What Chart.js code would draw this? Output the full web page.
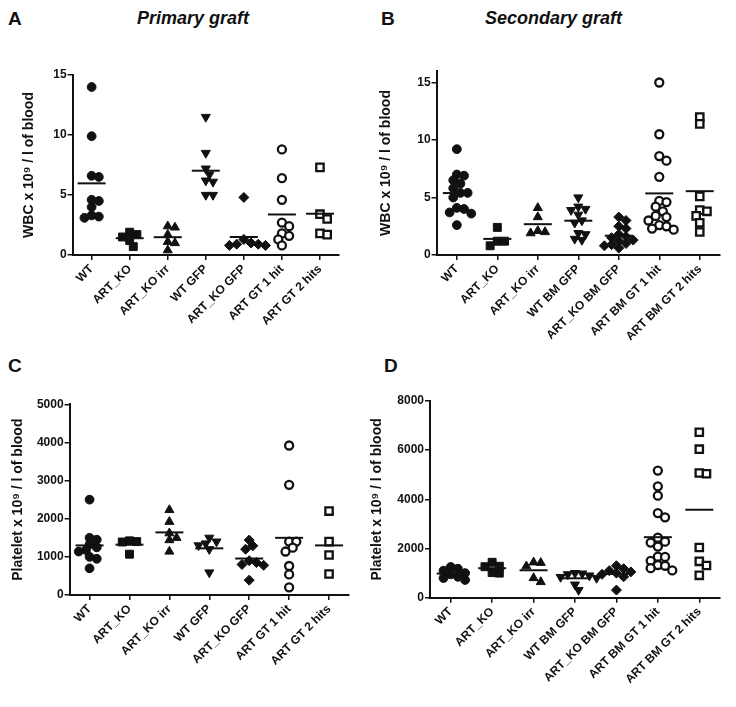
<!DOCTYPE html>
<html>
<head>
<meta charset="utf-8">
<script src="https://cdn.jsdelivr.net/npm/chart.js@4.4.1/dist/chart.umd.min.js"></script>
<style>
body { margin: 0; background: #fff; }
#wrap { position: relative; width: 736px; height: 707px; font-family: 'Liberation Sans', Arial, sans-serif; color: #111; }
canvas { position: absolute; }
.lbl { position: absolute; font-weight: bold; font-size: 19px; line-height: 22px; }
.ttl { position: absolute; font-weight: bold; font-style: italic; font-size: 18px; line-height: 22px; }
</style>
</head>
<body>
<div id="wrap">
  <div class="lbl" style="left:8px;top:8px">A</div>
  <div class="ttl" style="left:137px;top:7px">Primary graft</div>
  <div class="lbl" style="left:381px;top:8px">B</div>
  <div class="ttl" style="left:485px;top:7px">Secondary graft</div>
  <div class="lbl" style="left:8px;top:355px">C</div>
  <div class="lbl" style="left:384px;top:355px">D</div>
  <canvas id="chartA" width="355" height="310" style="left:0px;top:55px"></canvas>
  <canvas id="chartB" width="376" height="310" style="left:360px;top:55px"></canvas>
  <canvas id="chartC" width="365" height="322" style="left:0px;top:385px"></canvas>
  <canvas id="chartD" width="376" height="322" style="left:360px;top:385px"></canvas>
</div>
<script>
// group names
const primCats = ['WT', 'ART_KO', 'ART_KO irr', 'WT GFP', 'ART_KO GFP', 'ART GT 1 hit', 'ART GT 2 hits'];
const secCats = ['WT', 'ART_KO', 'ART_KO irr', 'WT BM GFP', 'ART_KO BM GFP', 'ART BM GT 1 hit', 'ART BM GT 2 hits'];

// A - WBC, primary graft (x10^9/l)
const wbcPrimWT = [14.0, 9.9, 6.6, 6.5, 4.6, 4.5, 4.0, 3.3, 3.2, 3.1];
const wbcPrimKO = [1.9, 1.7, 1.5, 1.2, 0.7];
const wbcPrimKOirr = [2.4, 2.3, 1.7, 1.1, 1.0, 0.4];
const wbcPrimWTGFP = [11.5, 8.5, 7.2, 6.7, 6.2, 6.1, 5.0, 5.0];
const wbcPrimKOGFP = [4.8, 1.3, 1.0, 0.9, 0.9, 0.8, 0.8];
const wbcPrimGT1 = [8.8, 6.4, 4.6, 2.7, 2.4, 1.8, 1.6, 1.3, 0.8];
const wbcPrimGT2 = [7.3, 3.4, 3.0, 1.8, 1.7];

// B - WBC, secondary graft
const wbcSecWT = [9.2, 7.0, 6.9, 6.5, 6.2, 5.8, 5.4, 5.4, 5.0, 4.1, 4.0, 3.7, 3.6, 2.6];
const wbcSecKO = [2.4, 1.2, 1.2, 0.8];
const wbcSecKOirr = [4.1, 3.3, 2.1, 2.0, 1.9];
const wbcSecWTGFP = [5.0, 4.2, 4.0, 3.9, 3.5, 3.0, 2.8, 1.9, 1.8, 1.4, 1.3];
const wbcSecKOGFP = [3.3, 3.0, 2.5, 2.3, 1.8, 1.6, 1.5, 1.3, 1.2, 1.0, 0.9, 0.8, 0.6];
const wbcSecGT1 = [15.0, 10.5, 8.6, 8.2, 6.8, 4.7, 4.6, 4.2, 3.8, 3.4, 3.3, 3.0, 2.6, 2.5, 2.3, 2.2];
const wbcSecGT2 = [12.0, 11.4, 5.1, 3.9, 3.8, 3.4, 2.8, 2.0];

// C - platelets, primary graft
const pltPrimWT = [2500, 1500, 1450, 1330, 1250, 1180, 1140, 1000, 950, 700];
const pltPrimKO = [1420, 1400, 1390, 1070];
const pltPrimKOirr = [2230, 1920, 1620, 1500, 1440, 1140];
const pltPrimWTGFP = [1500, 1400, 1350, 1300, 1200, 590];
const pltPrimKOGFP = [1440, 1290, 1200, 900, 850, 800, 780, 390];
const pltPrimGT1 = [3920, 2890, 1400, 1400, 1240, 1140, 760, 540, 200];
const pltPrimGT2 = [2200, 1400, 1050, 550];

// D - platelets, secondary graft
const pltSecWT = [1250, 1180, 1100, 1000, 950, 850, 800, 720];
const pltSecKO = [1440, 1280, 1260, 1020, 1000];
const pltSecKOirr = [1440, 1420, 1280, 800, 640];
const pltSecWTGFP = [1000, 980, 950, 900, 840, 800, 530, 310];
const pltSecKOGFP = [1300, 1180, 1100, 1050, 1000, 950, 850, 310];
const pltSecGT1 = [5170, 4530, 4150, 3440, 3270, 2440, 2280, 2240, 2080, 1670, 1660, 1500, 1330, 1300, 1200, 1110];
const pltSecGT2 = [6730, 6040, 5070, 5040, 2040, 1480, 1310, 910];

const wbcTicks = [0, 5, 10, 15];
const pltPrimTicks = [0, 1000, 2000, 3000, 4000, 5000];
const pltSecTicks = [0, 2000, 4000, 6000, 8000];

const ink = '#111';
const fontFam = "'Liberation Sans', Arial, sans-serif";

// one marker per group, same order in every panel
const markers = [
  {style: 'circle', r: 4.4},
  {style: 'rect', r: 5.6},
  {style: 'triangle', r: 5.2},
  {style: 'triangle', r: 5.2, rot: 180},
  {style: 'rectRot', r: 5},
  {style: 'circle', r: 4, open: true},
  {style: 'rect', r: 5.2, open: true}
];

// spread points sideways a little, close values side by side
function swarm(chart) {
  const xs = chart.scales.x, ys = chart.scales.y;
  const unit = xs.getPixelForValue(1) - xs.getPixelForValue(0);
  const d = 9;
  chart.data.datasets.forEach(ds => {
    if (ds.vals === undefined) return;
    const placed = [];
    const pts = [];
    const order = ds.vals.map((v, k) => k).sort((a, b) => ds.vals[b] - ds.vals[a]);
    order.forEach(k => {
      const py = ys.getPixelForValue(ds.vals[k]);
      let off = 0;
      for (let n = 0; n < 40; n++) {
        const c = n === 0 ? 0 : Math.ceil(n / 2) * (n % 2 ? 1 : -1) * d * 0.4;
        if (placed.every(p => Math.hypot(p.x - c, p.y - py) >= d * 0.72)) { off = c; break; }
      }
      placed.push({x: off, y: py});
      pts[k] = {x: ds.group + off / unit, y: ds.vals[k]};
    });
    ds.data = pts;
  });
  chart.update('none');
}

function drawPanel(id, cats, groups, yMax, yTicks, yTitle, box) {
  const datasets = [];
  const means = groups.map((g, i) => ({x: i, y: g.reduce((a, b) => a + b, 0) / g.length}));
  datasets.push({
    data: means, pointStyle: 'line', pointRadius: 14, pointHoverRadius: 14,
    pointBorderColor: ink, pointBorderWidth: 2, clip: false
  });
  groups.forEach((g, i) => {
    const m = markers[i];
    datasets.push({
      group: i, vals: g,
      data: g.map(v => ({x: i, y: v})),
      pointStyle: m.style, pointRotation: m.rot || 0,
      pointRadius: m.r, pointHoverRadius: m.r,
      pointBackgroundColor: m.open ? '#fff' : ink,
      pointBorderColor: ink, pointBorderWidth: m.open ? 2.3 : 1,
      clip: false
    });
  });

  const grid = {drawOnChartArea: false, drawTicks: true, tickLength: 5, color: ink, lineWidth: 1.5};
  const border = {color: ink, width: 2};
  const tickFont = {family: fontFam, size: 12, weight: 'bold'};

  const chart = new Chart(document.getElementById(id), {
    type: 'scatter',
    data: {datasets: datasets},
    options: {
      responsive: false,
      animation: false,
      events: [],
      plugins: {legend: {display: false}, tooltip: {enabled: false}},
      layout: {padding: {left: box.pl, top: box.pt, right: box.pr, bottom: 0}},
      scales: {
        x: {
          type: 'linear', min: -0.5, max: 6.5,
          afterBuildTicks: s => { s.ticks = cats.map((c, i) => ({value: i})); },
          afterFit: s => { s.height = box.xh; },
          grid: grid, border: border,
          ticks: {autoSkip: false, maxRotation: 45, minRotation: 45, padding: 2, color: ink, font: tickFont,
                  callback: v => cats[v]}
        },
        y: {
          type: 'linear', min: 0, max: yMax,
          afterBuildTicks: s => { s.ticks = yTicks.map(v => ({value: v})); },
          afterFit: s => { s.width = box.yw; },
          grid: grid, border: border,
          ticks: {padding: 1, color: ink, font: tickFont, callback: v => String(v)},
          title: {display: true, text: yTitle, color: ink, font: {family: fontFam, size: 14, weight: 'bold'},
                  padding: {top: 4, bottom: 4}}
        }
      }
    }
  });
  swarm(chart);
}

const wbcTitle = 'WBC x 10\u2079 / l of blood';
const pltTitle = 'Platelet x 10\u2079 / l of blood';

drawPanel('chartA', primCats,
  [wbcPrimWT, wbcPrimKO, wbcPrimKOirr, wbcPrimWTGFP, wbcPrimKOGFP, wbcPrimGT1, wbcPrimGT2],
  15, wbcTicks, wbcTitle, {pl: 16.6, pt: 20, pr: 11, yw: 56, xh: 110});

drawPanel('chartB', secCats,
  [wbcSecWT, wbcSecKO, wbcSecKOirr, wbcSecWTGFP, wbcSecKOGFP, wbcSecGT1, wbcSecGT2],
  16, wbcTicks, wbcTitle, {pl: 13.6, pt: 10, pr: 14, yw: 63, xh: 110});

drawPanel('chartC', primCats,
  [pltPrimWT, pltPrimKO, pltPrimKOirr, pltPrimWTGFP, pltPrimKOGFP, pltPrimGT1, pltPrimGT2],
  5000, pltPrimTicks, pltTitle, {pl: 5.6, pt: 19.3, pr: 12, yw: 64, xh: 112});

drawPanel('chartD', secCats,
  [pltSecWT, pltSecKO, pltSecKOirr, pltSecWTGFP, pltSecKOGFP, pltSecGT1, pltSecGT2],
  8000, pltSecTicks, pltTitle, {pl: 4.6, pt: 13.3, pr: 6, yw: 65.4, xh: 109.3});
</script>
</body>
</html>
